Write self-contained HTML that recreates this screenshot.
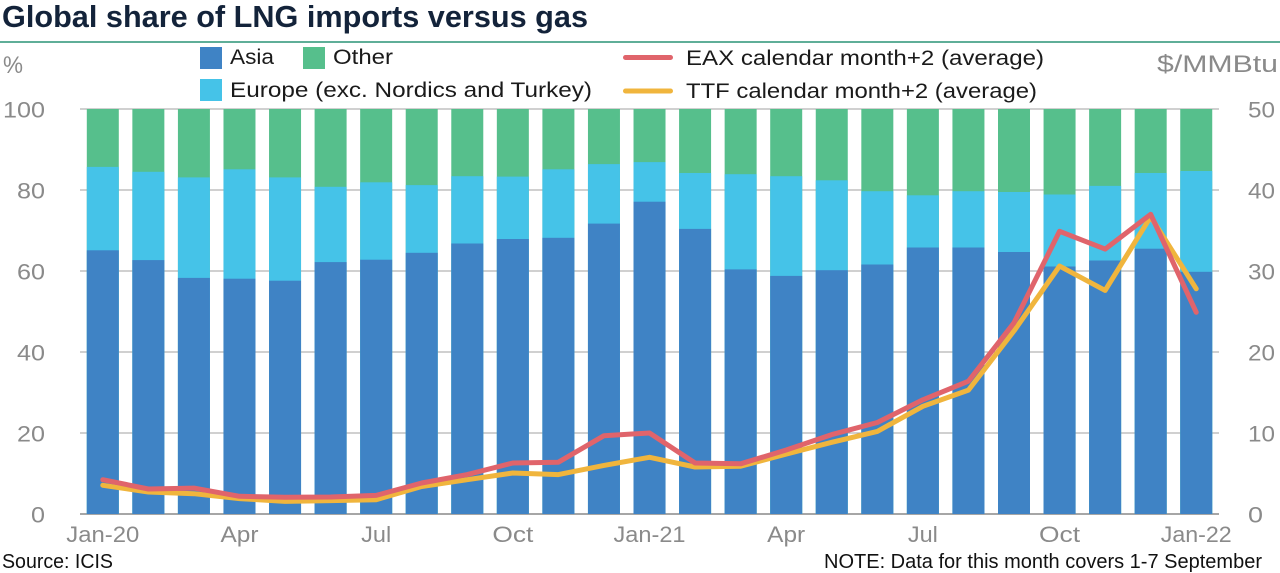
<!DOCTYPE html>
<html><head><meta charset="utf-8"><style>
html,body{margin:0;padding:0;background:#fff;}
svg{display:block;font-family:"Liberation Sans",Arial,sans-serif;}
</style></head><body>
<svg width="1280" height="573" viewBox="0 0 1280 573" xmlns="http://www.w3.org/2000/svg">
<rect width="1280" height="573" fill="#fff"/>
<text x="2" y="27" font-size="31" font-weight="bold" fill="#13233a" textLength="586" lengthAdjust="spacingAndGlyphs">Global share of LNG imports versus gas</text>
<line x1="0" y1="42" x2="1280" y2="42" stroke="#5fae98" stroke-width="2"/>

<!-- legend -->
<text x="3" y="73" font-size="24" fill="#8a8a8a" textLength="20" lengthAdjust="spacingAndGlyphs">%</text>
<rect x="200" y="47" width="22" height="22" fill="#3f83c5"/>
<text x="230" y="64" font-size="21" fill="#1a1a1a" textLength="44" lengthAdjust="spacingAndGlyphs">Asia</text>
<rect x="303" y="47" width="22" height="22" fill="#56bf8c"/>
<text x="333" y="64" font-size="21" fill="#1a1a1a" textLength="60" lengthAdjust="spacingAndGlyphs">Other</text>
<rect x="200" y="79" width="22" height="22" fill="#45c3e8"/>
<text x="230" y="97" font-size="21" fill="#1a1a1a" textLength="362" lengthAdjust="spacingAndGlyphs">Europe (exc. Nordics and Turkey)</text>
<line x1="625.5" y1="57.5" x2="670.5" y2="57.5" stroke="#e0646b" stroke-width="5" stroke-linecap="round"/>
<text x="686" y="65" font-size="21" fill="#1a1a1a" textLength="358" lengthAdjust="spacingAndGlyphs">EAX calendar month+2 (average)</text>
<line x1="625.5" y1="91" x2="670.5" y2="91" stroke="#f0b53d" stroke-width="5" stroke-linecap="round"/>
<text x="686" y="98" font-size="21" fill="#1a1a1a" textLength="351" lengthAdjust="spacingAndGlyphs">TTF calendar month+2 (average)</text>
<text x="1157" y="72" font-size="24" fill="#8a8a8a" textLength="121" lengthAdjust="spacingAndGlyphs">$/MMBtu</text>

<!-- gridlines -->
<g stroke="#a0a0a0" stroke-width="1">
<line x1="80" y1="109" x2="1219" y2="109"/>
<line x1="80" y1="190" x2="1219" y2="190"/>
<line x1="80" y1="271" x2="1219" y2="271"/>
<line x1="80" y1="352" x2="1219" y2="352"/>
<line x1="80" y1="433" x2="1219" y2="433"/>
</g>
<line x1="80" y1="514" x2="1219" y2="514" stroke="#888" stroke-width="1.5"/>

<!-- left ticks -->
<g font-size="22" fill="#8a8a8a" text-anchor="end">
<text x="45" y="117.5" textLength="42" lengthAdjust="spacingAndGlyphs">100</text>
<text x="45" y="198.5" textLength="28" lengthAdjust="spacingAndGlyphs">80</text>
<text x="45" y="279.5" textLength="28" lengthAdjust="spacingAndGlyphs">60</text>
<text x="45" y="360.5" textLength="28" lengthAdjust="spacingAndGlyphs">40</text>
<text x="45" y="441.5" textLength="28" lengthAdjust="spacingAndGlyphs">20</text>
<text x="45" y="522.5" textLength="14" lengthAdjust="spacingAndGlyphs">0</text>
</g>
<!-- right ticks -->
<g font-size="22" fill="#8a8a8a">
<text x="1248" y="117.5" textLength="27" lengthAdjust="spacingAndGlyphs">50</text>
<text x="1248" y="198.5" textLength="27" lengthAdjust="spacingAndGlyphs">40</text>
<text x="1248" y="279.5" textLength="27" lengthAdjust="spacingAndGlyphs">30</text>
<text x="1248" y="360.5" textLength="27" lengthAdjust="spacingAndGlyphs">20</text>
<text x="1248" y="441.5" textLength="27" lengthAdjust="spacingAndGlyphs">10</text>
<text x="1248" y="522.5" textLength="15" lengthAdjust="spacingAndGlyphs">0</text>
</g>

<!-- bars: Other (full) -->
<g fill="#56bf8c">
<rect x="86.8" y="109" width="32" height="405"/>
<rect x="132.36" y="109" width="32" height="405"/>
<rect x="177.92" y="109" width="32" height="405"/>
<rect x="223.48" y="109" width="32" height="405"/>
<rect x="269.04" y="109" width="32" height="405"/>
<rect x="314.6" y="109" width="32" height="405"/>
<rect x="360.16" y="109" width="32" height="405"/>
<rect x="405.72" y="109" width="32" height="405"/>
<rect x="451.28" y="109" width="32" height="405"/>
<rect x="496.84" y="109" width="32" height="405"/>
<rect x="542.4" y="109" width="32" height="405"/>
<rect x="587.96" y="109" width="32" height="405"/>
<rect x="633.52" y="109" width="32" height="405"/>
<rect x="679.08" y="109" width="32" height="405"/>
<rect x="724.64" y="109" width="32" height="405"/>
<rect x="770.2" y="109" width="32" height="405"/>
<rect x="815.76" y="109" width="32" height="405"/>
<rect x="861.32" y="109" width="32" height="405"/>
<rect x="906.88" y="109" width="32" height="405"/>
<rect x="952.44" y="109" width="32" height="405"/>
<rect x="998" y="109" width="32" height="405"/>
<rect x="1043.56" y="109" width="32" height="405"/>
<rect x="1089.12" y="109" width="32" height="405"/>
<rect x="1134.68" y="109" width="32" height="405"/>
<rect x="1180.24" y="109" width="32" height="405"/>
</g>
<!-- Europe -->
<g fill="#45c3e8">
<rect x="86.8" y="166.9" width="32" height="347.1"/>
<rect x="132.36" y="171.8" width="32" height="342.2"/>
<rect x="177.92" y="177.4" width="32" height="336.6"/>
<rect x="223.48" y="169.3" width="32" height="344.7"/>
<rect x="269.04" y="177.4" width="32" height="336.6"/>
<rect x="314.6" y="186.8" width="32" height="327.2"/>
<rect x="360.16" y="182.3" width="32" height="331.7"/>
<rect x="405.72" y="185.1" width="32" height="328.9"/>
<rect x="451.28" y="176.2" width="32" height="337.8"/>
<rect x="496.84" y="176.6" width="32" height="337.4"/>
<rect x="542.4" y="169.3" width="32" height="344.7"/>
<rect x="587.96" y="164.1" width="32" height="349.9"/>
<rect x="633.52" y="162.1" width="32" height="351.9"/>
<rect x="679.08" y="173" width="32" height="341"/>
<rect x="724.64" y="174.2" width="32" height="339.8"/>
<rect x="770.2" y="176.2" width="32" height="337.8"/>
<rect x="815.76" y="180.3" width="32" height="333.7"/>
<rect x="861.32" y="191.2" width="32" height="322.8"/>
<rect x="906.88" y="195.3" width="32" height="318.7"/>
<rect x="952.44" y="191.2" width="32" height="322.8"/>
<rect x="998" y="192" width="32" height="322"/>
<rect x="1043.56" y="194.5" width="32" height="319.5"/>
<rect x="1089.12" y="185.9" width="32" height="328.1"/>
<rect x="1134.68" y="173" width="32" height="341"/>
<rect x="1180.24" y="171" width="32" height="343"/>
</g>
<!-- Asia -->
<g fill="#3f83c5">
<rect x="86.8" y="250.3" width="32" height="263.7"/>
<rect x="132.36" y="260.1" width="32" height="253.9"/>
<rect x="177.92" y="277.9" width="32" height="236.1"/>
<rect x="223.48" y="278.7" width="32" height="235.3"/>
<rect x="269.04" y="280.7" width="32" height="233.3"/>
<rect x="314.6" y="262.1" width="32" height="251.9"/>
<rect x="360.16" y="259.7" width="32" height="254.3"/>
<rect x="405.72" y="252.8" width="32" height="261.2"/>
<rect x="451.28" y="243.5" width="32" height="270.5"/>
<rect x="496.84" y="239" width="32" height="275"/>
<rect x="542.4" y="237.8" width="32" height="276.2"/>
<rect x="587.96" y="223.6" width="32" height="290.4"/>
<rect x="633.52" y="201.7" width="32" height="312.3"/>
<rect x="679.08" y="228.9" width="32" height="285.1"/>
<rect x="724.64" y="269.4" width="32" height="244.6"/>
<rect x="770.2" y="275.9" width="32" height="238.1"/>
<rect x="815.76" y="270.2" width="32" height="243.8"/>
<rect x="861.32" y="264.5" width="32" height="249.5"/>
<rect x="906.88" y="247.5" width="32" height="266.5"/>
<rect x="952.44" y="247.5" width="32" height="266.5"/>
<rect x="998" y="252" width="32" height="262"/>
<rect x="1043.56" y="266.5" width="32" height="247.5"/>
<rect x="1089.12" y="260.5" width="32" height="253.5"/>
<rect x="1134.68" y="248.7" width="32" height="265.3"/>
<rect x="1180.24" y="271.8" width="32" height="242.2"/>
</g>

<!-- TTF line -->
<polyline fill="none" stroke="#f0b53d" stroke-width="5" stroke-linejoin="round" stroke-linecap="round"
points="102.8,485.3 148.36,492 193.92,493.7 239.48,498.6 285.04,501.4 330.6,500.6 376.16,499.7 421.72,486.5 467.28,479.7 512.84,473 558.4,474.6 603.96,465.4 649.52,457.3 695.08,467 740.64,466.2 786.2,454.1 831.76,442.3 877.32,431.4 922.88,406.3 968.44,390.1 1014,330.9 1059.56,266.1 1105.12,290.4 1150.68,216.7 1196.24,288.8"/>
<!-- EAX line -->
<polyline fill="none" stroke="#e0646b" stroke-width="5" stroke-linejoin="round" stroke-linecap="round"
points="102.8,479.7 148.36,489 193.92,488.1 239.48,496.3 285.04,497.3 330.6,497 376.16,495.4 421.72,483 467.28,474.6 512.84,463 558.4,462.2 603.96,435.7 649.52,433 695.08,463 740.64,463.8 786.2,450 831.76,434.6 877.32,422.5 922.88,399.8 968.44,381.2 1014,322.8 1059.56,231.3 1105.12,249.1 1150.68,214.3 1196.24,312.3"/>

<!-- x labels -->
<g font-size="22" fill="#8a8a8a" text-anchor="middle">
<text x="102.8" y="542" textLength="73" lengthAdjust="spacingAndGlyphs">Jan-20</text>
<text x="239.48" y="542" textLength="38" lengthAdjust="spacingAndGlyphs">Apr</text>
<text x="376.16" y="542" textLength="30" lengthAdjust="spacingAndGlyphs">Jul</text>
<text x="512.84" y="542" textLength="41" lengthAdjust="spacingAndGlyphs">Oct</text>
<text x="649.52" y="542" textLength="72" lengthAdjust="spacingAndGlyphs">Jan-21</text>
<text x="786.2" y="542" textLength="38" lengthAdjust="spacingAndGlyphs">Apr</text>
<text x="922.88" y="542" textLength="30" lengthAdjust="spacingAndGlyphs">Jul</text>
<text x="1059.56" y="542" textLength="41" lengthAdjust="spacingAndGlyphs">Oct</text>
<text x="1196.24" y="542" textLength="71" lengthAdjust="spacingAndGlyphs">Jan-22</text>
</g>

<text x="2" y="568" font-size="20" fill="#111" textLength="111" lengthAdjust="spacingAndGlyphs">Source: ICIS</text>
<text x="824" y="568" font-size="20" fill="#111" textLength="438" lengthAdjust="spacingAndGlyphs">NOTE: Data for this month covers 1-7 September</text>
</svg>
</body></html>
